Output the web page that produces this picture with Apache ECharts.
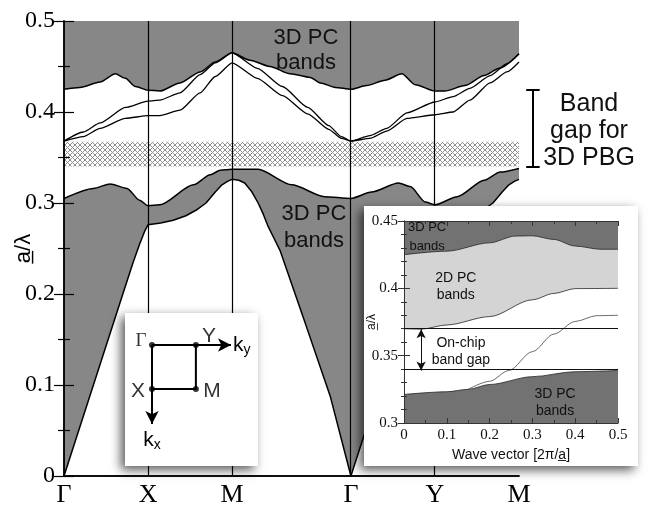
<!DOCTYPE html>
<html>
<head>
<meta charset="utf-8">
<script src="https://cdn.jsdelivr.net/npm/echarts@6/dist/echarts.min.js"></script>
<style>
    html, body { margin: 0; padding: 0; background: #fff; }
    #chart { width: 650px; height: 514px; }
</style>
</head>
<body>
<div id="chart"></div>
<script>
// k-path: Γ X M Γ Y M (M-Γ is √2 long)
const kPos = [0, 1, 2, 3.414, 4.414, 5.414];
const kNames = ['Γ', 'X', 'M', 'Γ', 'Y', 'M'];

// upper 3D PC bands, lower edge
const upperEdge = [[0, 0.425], [0.19, 0.427], [0.43, 0.433], [0.61, 0.442], [0.73, 0.437], [0.85, 0.428], [1.0, 0.424], [1.14, 0.423], [1.38, 0.432], [1.62, 0.444], [1.8, 0.455], [2.0, 0.465], [2.21, 0.457], [2.45, 0.45], [2.69, 0.442], [2.93, 0.438], [3.05, 0.432], [3.23, 0.427], [3.414, 0.425], [3.6, 0.429], [3.82, 0.435], [4.02, 0.442], [4.18, 0.43], [4.414, 0.423], [4.53, 0.423], [4.77, 0.429], [5.0, 0.44], [5.18, 0.448], [5.414, 0.464]];
// two modes inside the gap
const modeA = [[0, 0.368], [0.23, 0.378], [0.43, 0.388], [0.73, 0.405], [1.0, 0.412], [1.14, 0.413], [1.38, 0.421], [1.62, 0.441], [1.8, 0.454], [2.0, 0.465], [2.3, 0.448], [2.6, 0.428], [2.9, 0.405], [3.15, 0.385], [3.3, 0.373], [3.414, 0.368], [3.64, 0.374], [3.84, 0.382], [4.08, 0.399], [4.414, 0.411], [4.63, 0.417], [4.83, 0.426], [5.07, 0.44], [5.27, 0.453], [5.414, 0.464]];
const modeB = [[0, 0.368], [0.23, 0.373], [0.43, 0.382], [0.73, 0.393], [1.0, 0.396], [1.14, 0.396], [1.38, 0.402], [1.62, 0.421], [1.8, 0.439], [2.0, 0.454], [2.3, 0.437], [2.6, 0.418], [2.9, 0.398], [3.15, 0.381], [3.3, 0.371], [3.414, 0.368], [3.64, 0.371], [3.84, 0.379], [4.08, 0.393], [4.414, 0.397], [4.63, 0.4], [4.83, 0.413], [5.07, 0.432], [5.27, 0.444], [5.414, 0.455]];
// lower 3D PC bands, top and bottom edge
const lowerTop = [[0, 0.305], [0.35, 0.316], [0.55, 0.321], [0.75, 0.316], [0.9, 0.303], [1.0, 0.297], [1.14, 0.298], [1.54, 0.32], [1.74, 0.331], [1.86, 0.336], [2.0, 0.337], [2.31, 0.337], [2.71, 0.32], [3.1, 0.307], [3.414, 0.305], [3.66, 0.312], [3.98, 0.322], [4.12, 0.318], [4.3, 0.301], [4.414, 0.298], [4.68, 0.307], [5.0, 0.325], [5.19, 0.334], [5.414, 0.338]];
const lowerBottom = [[0, 0], [0.35, 0.1], [0.7, 0.2], [0.82, 0.234], [0.9, 0.255], [0.96, 0.269], [1.0, 0.276], [1.15, 0.278], [1.3, 0.281], [1.45, 0.286], [1.57, 0.292], [1.69, 0.3], [1.8, 0.312], [1.88, 0.32], [1.95, 0.324], [2.0, 0.326], [2.08, 0.325], [2.15, 0.322], [2.23, 0.313], [2.31, 0.3], [2.37, 0.288], [2.43, 0.274], [2.5, 0.261], [2.57, 0.248], [2.87, 0.168], [3.17, 0.087], [3.414, 0], [3.764, 0.1], [4.114, 0.2], [4.234, 0.234], [4.314, 0.255], [4.374, 0.269], [4.414, 0.276], [4.564, 0.278], [4.714, 0.281], [4.864, 0.286], [4.984, 0.292], [5.104, 0.3], [5.214, 0.312], [5.294, 0.32], [5.364, 0.324], [5.414, 0.326]];
const pbgGap = [0.34, 0.3674];
const pbgBracket = [0.34, 0.424];

// inset: wave vector [2π/a]
const insetTop = [[0, 0.425], [0.1, 0.4276], [0.2, 0.4338], [0.26, 0.4388], [0.3, 0.439], [0.35, 0.4363], [0.4, 0.4314], [0.46, 0.429], [0.5, 0.429]];
const inset2D = [[0, 0.37], [0.04, 0.3697], [0.1, 0.3728], [0.2, 0.379], [0.3, 0.3915], [0.35, 0.3962], [0.4, 0.3998], [0.5, 0.4]];
const insetBottom = [[0, 0.3212], [0.1, 0.3232], [0.15, 0.325], [0.2, 0.3286], [0.3, 0.3344], [0.4, 0.3381], [0.5, 0.339]];
const insetMode = [[0.15, 0.325], [0.2, 0.331], [0.245, 0.339], [0.3, 0.353], [0.35, 0.366], [0.4, 0.3754], [0.45, 0.3797], [0.5, 0.38]];
const onChipGap = [0.3389, 0.3697];

// Brillouin zone sketch
const bzPoints = [[0, 0], [1, 0], [1, 1], [0, 1]];
const bzNames = ['Γ', 'Y', 'M', 'X'];

const serif = '"Liberation Serif", "Times New Roman", serif';
const sans = '"Liberation Sans", Arial, sans-serif';
const gray = '#878787';
const darkGray = '#727272';
const lightGray = '#d4d4d4';

// cross-hatch pattern for the PBG
const hatch = document.createElement('canvas');
hatch.width = 5;
hatch.height = 5;
(function () {
    const ctx = hatch.getContext('2d');
    ctx.fillStyle = '#fff';
    ctx.fillRect(0, 0, 5, 5);
    ctx.fillStyle = '#909090';
    for (let i = 0; i < 5; i++) {
        ctx.fillRect(i, i, 1, 1);
        ctx.fillRect(4 - i, i, 1, 1);
    }
})();

const chart = echarts.init(document.getElementById('chart'));

function edgeLine(data, extra) {
    return Object.assign({
        type: 'line',
        xAxisIndex: 0,
        yAxisIndex: 0,
        data: data,
        showSymbol: false,
        smooth: 0.25,
        smoothMonotone: 'x',
        silent: true,
        lineStyle: {color: '#000', width: 1.5}
    }, extra);
}

function insetLine(data, extra) {
    return Object.assign({
        type: 'line',
        xAxisIndex: 2,
        yAxisIndex: 2,
        data: data,
        showSymbol: false,
        smooth: 0.3,
        smoothMonotone: 'x',
        silent: true,
        lineStyle: {color: '#222', width: 0.8}
    }, extra);
}

const bzRich = {
    k: {fontFamily: sans, fontSize: 21, color: '#000'},
    s: {fontFamily: sans, fontSize: 14, color: '#000', padding: [10, 0, 0, 0]}
};
const bzOffsets = [[-11, -4], [13, -9], [16, 2], [-14, 2]];
const bzFonts = [serif, sans, sans, sans];

let option = {
    animation: false,
    backgroundColor: '#fff',
    grid: [
        {left: 64, top: 21, width: 455, height: 455, outerBoundsMode: 'none', containLabel: false},
        {left: 404, top: 221, width: 214, height: 202, outerBoundsMode: 'none', containLabel: false},
        {left: 152, top: 345, width: 79, height: 79, outerBoundsMode: 'none', containLabel: false}
    ],
    xAxis: [
        {
            type: 'value', gridIndex: 0, min: 0, max: 5.414, z: 10,
            axisLine: {lineStyle: {color: '#000', width: 1.5}},
            axisTick: {show: false},
            splitLine: {show: false},
            axisLabel: {
                customValues: kPos,
                margin: 6,
                fontFamily: serif, fontSize: 26, color: '#000',
                formatter: v => kNames[kPos.indexOf(v)] || ''
            }
        },
        {
            type: 'value', gridIndex: 0, min: 0, max: 5.414, position: 'top', z: 10,
            axisLine: {lineStyle: {color: '#000', width: 1.5}},
            axisTick: {show: false}, axisLabel: {show: false}, splitLine: {show: false}
        },
        {
            type: 'value', gridIndex: 1, min: 0, max: 0.5, interval: 0.1, z: 31,
            axisLine: {lineStyle: {color: '#333', width: 1}},
            axisTick: {inside: true, length: 5, lineStyle: {color: '#333'}},
            minorTick: {show: true, splitNumber: 2, length: 3, lineStyle: {color: '#333'}},
            splitLine: {show: false},
            axisLabel: {
                margin: 5, fontFamily: serif, fontSize: 15, color: '#111',
                formatter: v => v === 0 ? '0' : String(+v.toFixed(1))
            },
            name: 'Wave vector [2π/a̲]',
            nameLocation: 'middle', nameGap: 25, nameMoveOverlap: false,
            nameTextStyle: {fontFamily: sans, fontSize: 14, color: '#111'}
        },
        {
            type: 'value', gridIndex: 1, min: 0, max: 0.5, interval: 0.1, position: 'top', z: 31,
            axisLine: {lineStyle: {color: '#333', width: 1}},
            axisTick: {inside: true, length: 5, lineStyle: {color: '#333'}},
            minorTick: {show: true, splitNumber: 2, length: 3, lineStyle: {color: '#333'}},
            axisLabel: {show: false}, splitLine: {show: false}
        },
        {type: 'value', gridIndex: 2, min: 0, max: 1.8, show: false}
    ],
    yAxis: [
        {
            type: 'value', gridIndex: 0, min: 0, max: 0.5, interval: 0.1, z: 10,
            axisLine: {lineStyle: {color: '#000', width: 1.5}},
            axisTick: {inside: true, length: 10, lineStyle: {color: '#000', width: 1.2}},
            minorTick: {show: true, splitNumber: 2, length: 6, lineStyle: {color: '#000', width: 1.2}},
            splitLine: {show: false},
            axisLabel: {
                margin: 9, fontFamily: serif, fontSize: 24, color: '#000',
                formatter: v => v === 0 ? '0' : v.toFixed(1)
            },
            name: 'a̲/λ',
            nameLocation: 'middle', nameGap: 29, nameMoveOverlap: false,
            nameTextStyle: {fontFamily: sans, fontSize: 22, color: '#000'}
        },
        {
            type: 'value', gridIndex: 0, min: 0, max: 0.5, interval: 0.1, position: 'right', z: 10,
            axisLine: {lineStyle: {color: '#000', width: 1.5}},
            axisTick: {inside: true, length: 10, lineStyle: {color: '#000', width: 1.2}},
            minorTick: {show: true, splitNumber: 2, length: 6, lineStyle: {color: '#000', width: 1.2}},
            axisLabel: {show: false}, splitLine: {show: false}
        },
        {
            type: 'value', gridIndex: 1, min: 0.3, max: 0.45, interval: 0.05, z: 31,
            axisLine: {lineStyle: {color: '#333', width: 1}},
            axisTick: {inside: true, length: 6, lineStyle: {color: '#333'}},
            minorTick: {show: true, splitNumber: 5, length: 3, lineStyle: {color: '#333'}},
            splitLine: {show: false},
            axisLabel: {
                margin: 6, fontFamily: serif, fontSize: 15, color: '#111',
                formatter: v => String(+v.toFixed(2))
            },
            name: 'a̲/λ',
            nameLocation: 'middle', nameGap: 26, nameMoveOverlap: false,
            nameTextStyle: {fontFamily: sans, fontSize: 12, color: '#111'}
        },
        {
            type: 'value', gridIndex: 1, min: 0.3, max: 0.45, interval: 0.05, position: 'right', z: 31,
            axisLine: {lineStyle: {color: '#333', width: 1}},
            axisTick: {inside: true, length: 6, lineStyle: {color: '#333'}},
            minorTick: {show: true, splitNumber: 5, length: 3, lineStyle: {color: '#333'}},
            axisLabel: {show: false}, splitLine: {show: false}
        },
        {type: 'value', gridIndex: 2, min: 0, max: 1.8, inverse: true, show: false}
    ],
    series: [
        // main band diagram
        edgeLine(upperEdge, {z: 2, areaStyle: {origin: 'end', color: gray, opacity: 1}}),
        edgeLine(lowerTop, {z: 2, areaStyle: {origin: 'start', color: gray, opacity: 1}}),
        edgeLine(lowerBottom, {z: 3, smooth: false, areaStyle: {origin: 'start', color: '#fff', opacity: 1}}),
        edgeLine(modeA, {z: 4, smooth: 0.2, lineStyle: {color: '#000', width: 1.3}}),
        edgeLine(modeB, {
            z: 4, smooth: 0.2, lineStyle: {color: '#000', width: 1.3},
            markArea: {
                silent: true, z: 4,
                itemStyle: {color: {image: hatch, repeat: 'repeat'}, opacity: 1},
                data: [[{yAxis: pbgGap[0]}, {yAxis: pbgGap[1]}]]
            },
            markLine: {
                silent: true, z: 5, symbol: ['none', 'none'], label: {show: false},
                lineStyle: {color: '#000', width: 1.2, type: 'solid'},
                data: kPos.slice(1, 5).map(v => ({xAxis: v}))
            }
        }),
        {
            type: 'lines', coordinateSystem: 'cartesian2d', xAxisIndex: 0, yAxisIndex: 0,
            clip: false, silent: true, z: 5,
            lineStyle: {color: '#000', width: 2, opacity: 1},
            data: [
                {coords: [[5.58, pbgBracket[0]], [5.58, pbgBracket[1]]]},
                {coords: [[5.5, pbgBracket[0]], [5.66, pbgBracket[0]]]},
                {coords: [[5.5, pbgBracket[1]], [5.66, pbgBracket[1]]]}
            ]
        },
        // inset
        insetLine(inset2D, {z: 30, areaStyle: {origin: 'end', color: lightGray, opacity: 1}}),
        insetLine(insetTop, {z: 31, areaStyle: {origin: 'end', color: darkGray, opacity: 1}}),
        insetLine(insetBottom, {z: 31, areaStyle: {origin: 'start', color: darkGray, opacity: 1}}),
        insetLine(insetMode, {
            z: 32, lineStyle: {color: '#444', width: 0.8},
            markLine: {
                silent: true, z: 35, symbol: ['none', 'none'], symbolSize: [7, 9],
                label: {show: false},
                lineStyle: {color: '#111', width: 1, type: 'solid'},
                data: [
                    {yAxis: onChipGap[0]},
                    {yAxis: onChipGap[1]},
                    [{coord: [0.04, onChipGap[1]], symbol: 'arrow'}, {coord: [0.04, onChipGap[0]], symbol: 'arrow'}]
                ]
            },
            markPoint: {
                silent: true, z: 36, symbol: 'circle', symbolSize: 0,
                label: {show: true, position: 'inside', fontFamily: sans, fontSize: 14, color: '#111', lineHeight: 17},
                data: [
                    {coord: [0.054, 0.438], label: {formatter: '3D PC\nbands', fontSize: 13, lineHeight: 19}},
                    {coord: [0.121, 0.4015], label: {formatter: '2D PC\nbands'}},
                    {coord: [0.133, 0.353], label: {formatter: 'On-chip\nband gap'}},
                    {coord: [0.353, 0.315], label: {formatter: '3D PC\nbands'}}
                ]
            }
        }),
        // Brillouin zone sketch
        {
            type: 'line', xAxisIndex: 4, yAxisIndex: 4, z: 30, silent: true,
            data: bzPoints.concat([bzPoints[0]]),
            showSymbol: false,
            lineStyle: {color: '#000', width: 2},
            markLine: {
                silent: true, z: 35, symbol: ['none', 'arrow'], symbolSize: [10, 13],
                lineStyle: {color: '#000', width: 2, type: 'solid'},
                label: {show: true, position: 'end', distance: 3, rich: bzRich},
                data: [
                    [{coord: bzPoints[0]}, {coord: [1.8, 0], label: {formatter: '{k|k}{s|y}', distance: 2}}],
                    [{coord: bzPoints[0]}, {coord: [0, 1.8], label: {formatter: '{k|k}{s|x}', distance: 4}}]
                ]
            }
        },
        {
            type: 'scatter', xAxisIndex: 4, yAxisIndex: 4, z: 31, silent: true,
            symbolSize: 6, itemStyle: {color: '#000'},
            data: bzPoints.map((p, i) => ({
                value: p,
                label: {
                    show: true, position: 'inside', formatter: bzNames[i],
                    offset: bzOffsets[i], fontFamily: bzFonts[i],
                    fontSize: i === 0 ? 19 : 21, color: '#000'
                }
            }))
        }
    ],
    graphic: {
        elements: [
            {
                type: 'text', z: 15, silent: true,
                style: {text: '3D PC\nbands', x: 306, y: 50, align: 'center', verticalAlign: 'middle', font: '22px ' + sans, fill: '#111', lineHeight: 25}
            },
            {
                type: 'text', z: 15, silent: true,
                style: {text: '3D PC\nbands', x: 314, y: 227, align: 'center', verticalAlign: 'middle', font: '22px ' + sans, fill: '#111', lineHeight: 27}
            },
            {
                type: 'text', z: 15, silent: true,
                style: {text: 'Band\ngap for\n3D PBG', x: 589, y: 131, align: 'center', verticalAlign: 'middle', font: '25px ' + sans, fill: '#111', lineHeight: 27}
            },
            {
                type: 'rect', z: 20, silent: true,
                shape: {x: 364, y: 206, width: 274, height: 260},
                style: {fill: '#fff', shadowBlur: 10, shadowOffsetX: -4, shadowOffsetY: 4, shadowColor: 'rgba(0,0,0,0.65)'}
            },
            {
                type: 'rect', z: 20, silent: true,
                shape: {x: 125, y: 313, width: 133, height: 153},
                style: {fill: '#fff', shadowBlur: 10, shadowOffsetX: -4, shadowOffsetY: 4, shadowColor: 'rgba(0,0,0,0.65)'}
            }
        ]
    }
};

chart.setOption(option);
</script>
</body>
</html>
